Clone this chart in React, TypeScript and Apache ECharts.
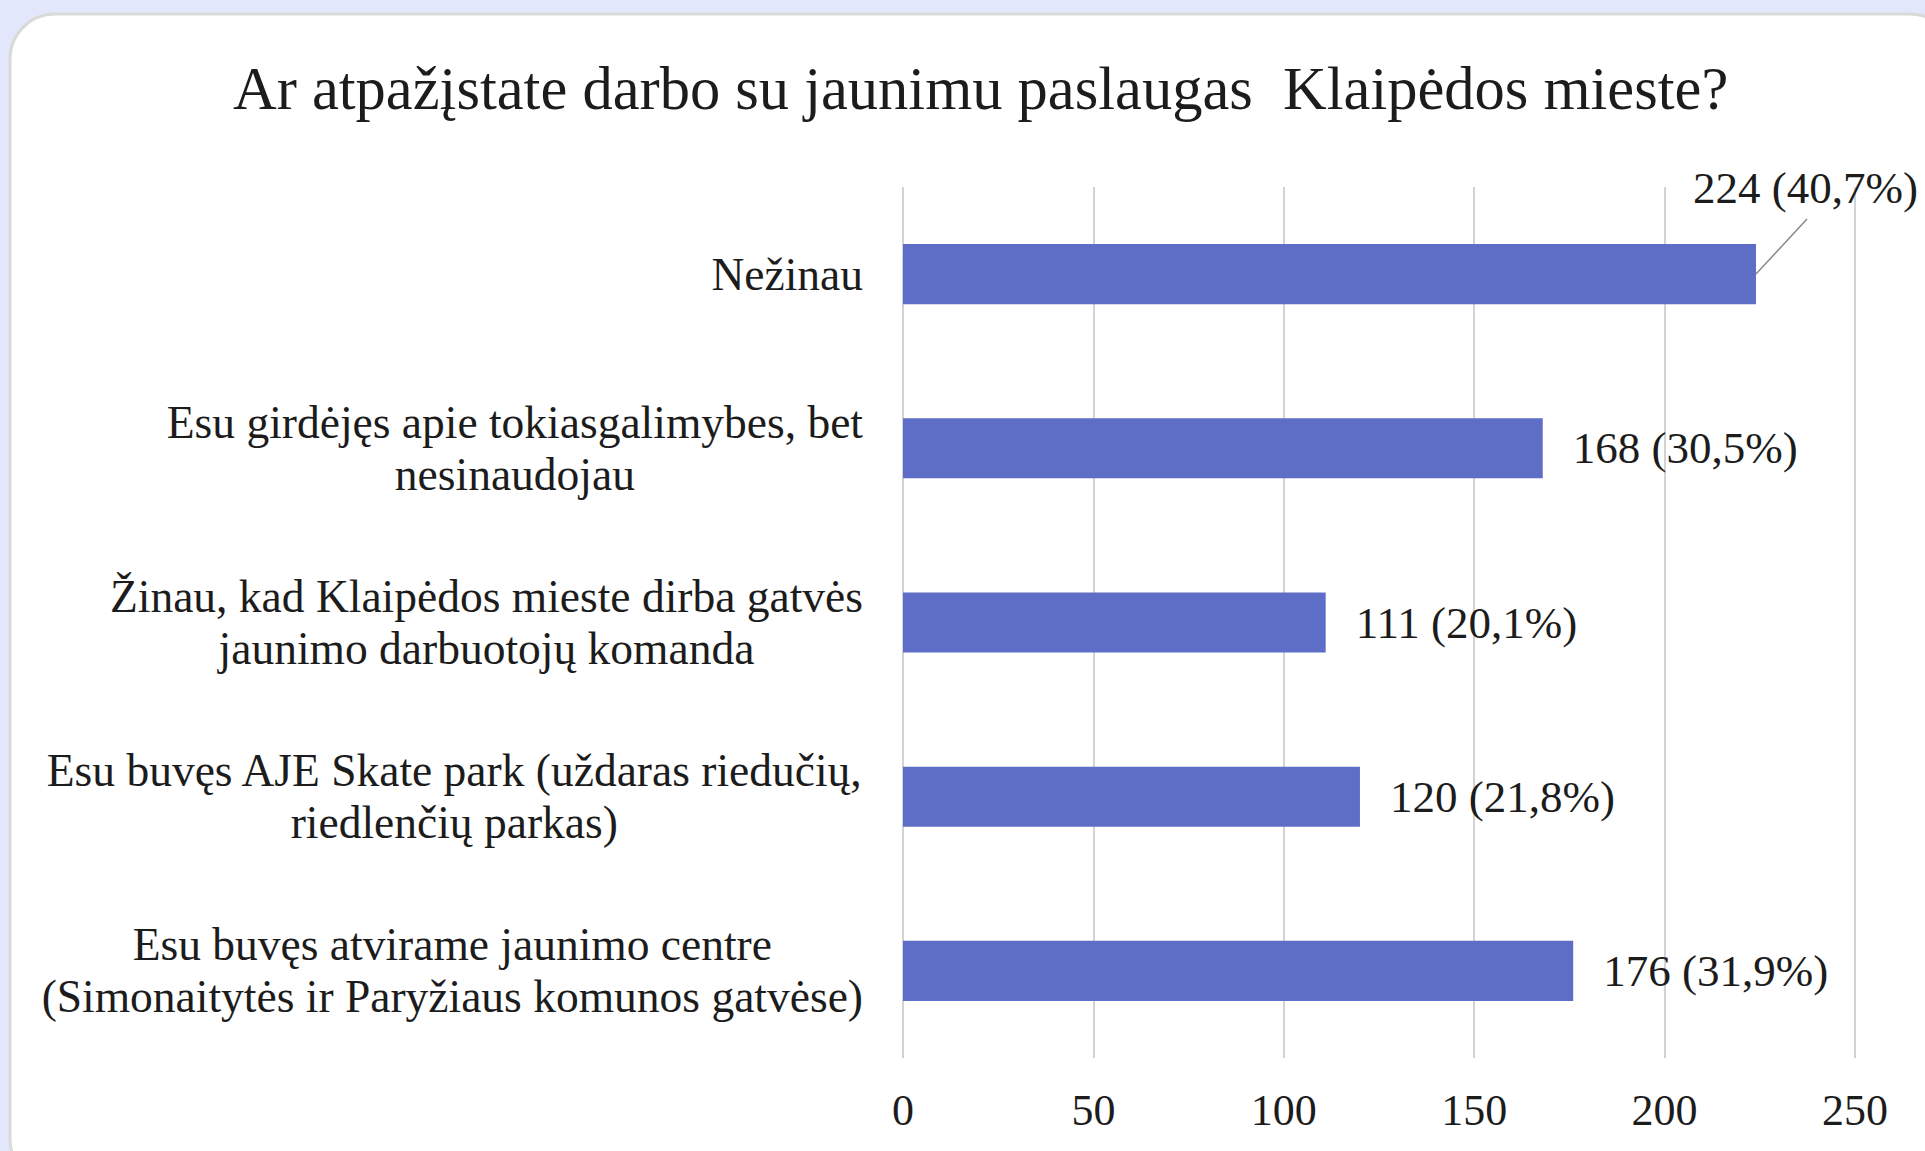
import React, { useEffect, useRef } from "react";
import * as echarts from "echarts";

const titleText = "Ar atpažįstate darbo su jaunimu paslaugas  Klaipėdos mieste?";
const categories = [
  "Nežinau",
  "Esu girdėjęs apie tokiasgalimybes, bet\nnesinaudojau",
  "Žinau, kad Klaipėdos mieste dirba gatvės\njaunimo darbuotojų komanda",
  "Esu buvęs AJE Skate park (uždaras riedučių,\nriedlenčių parkas)",
  "Esu buvęs atvirame jaunimo centre\n(Simonaitytės ir Paryžiaus komunos gatvėse)",
];
const values = [224, 168, 111, 120, 176];
const percents = ["40,7%", "30,5%", "20,1%", "21,8%", "31,9%"];
const axisMin = 0;
const axisMax = 250;
const axisInterval = 50;

const FONT = "'Liberation Serif', 'Times New Roman', serif";
const TEXT = "#1c1c1c";

export default function App() {
  const ref = useRef<HTMLDivElement>(null);
  useEffect(() => {
    if (!ref.current) return;
    const chart = echarts.init(ref.current, undefined, { renderer: "svg" });
    const dxTop = -93;
    const dyTop = -86;
    const leaderDx = 51;
    const leaderDy = -55;
    chart.setOption({
      animation: false,
      backgroundColor: "#e3e7fb",
      graphic: {
        elements: [
          {
            type: "rect",
            z: -100,
            silent: true,
            shape: { x: 10, y: 14, width: 1945, height: 1170, r: 45 },
            style: { fill: "#ffffff", stroke: "#d9d9d9", lineWidth: 3 },
          },
        ],
      },
      title: {
        text: titleText,
        left: 233,
        top: 58,
        padding: 0,
        textStyle: {
          fontFamily: FONT,
          fontSize: 60.5,
          fontWeight: "normal",
          color: TEXT,
        },
      },
      grid: { left: 903, right: 70, top: 187, bottom: 93, containLabel: false },
      xAxis: {
        type: "value",
        min: axisMin,
        max: axisMax,
        interval: axisInterval,
        axisLine: { show: false },
        axisTick: { show: false },
        axisLabel: {
          margin: 30,
          fontFamily: FONT,
          fontSize: 44,
          color: TEXT,
        },
        splitLine: { show: true, lineStyle: { color: "#d3d3d3", width: 2 } },
      },
      yAxis: {
        type: "category",
        inverse: true,
        data: categories,
        axisLine: { show: false },
        axisTick: { show: false },
        axisLabel: {
          margin: 40,
          formatter: (v: string) =>
            v
              .split("\n")
              .map((l) => `{c|${l}}`)
              .join("\n"),
          rich: {
            c: {
              align: "center",
              fontFamily: FONT,
              fontSize: 45.5,
              lineHeight: 52,
              color: TEXT,
            },
          },
        },
      },
      series: [
        {
          type: "bar",
          barCategoryGap: "65.5%",
          itemStyle: { color: "#5e6ec6" },
          data: values,
          label: {
            show: true,
            position: "right",
            distance: 30,
            offset: [0, 4],
            fontFamily: FONT,
            fontSize: 45,
            color: TEXT,
            formatter: (p: any) => `${values[p.dataIndex]} (${percents[p.dataIndex]})`,
          },
          labelLayout: (p: any) => (p.dataIndex === 0 ? { dx: dxTop, dy: dyTop } : {}),
        },
        {
          type: "custom",
          silent: true,
          z: 3,
          data: [[values[0], 0]],
          encode: { x: 0, y: 1 },
          renderItem: (params: any, api: any) => {
            const p = api.coord([api.value(0), api.value(1)]);
            return {
              type: "line",
              shape: { x1: p[0], y1: p[1], x2: p[0] + leaderDx, y2: p[1] + leaderDy },
              style: { stroke: "#8a8a8a", lineWidth: 1.5 },
            };
          },
        },
      ],
    });
    return () => chart.dispose();
  }, []);
  return (
    <div
      ref={ref}
      style={{ position: "fixed", left: 0, top: 0, width: 1925, height: 1151 }}
    />
  );
}
